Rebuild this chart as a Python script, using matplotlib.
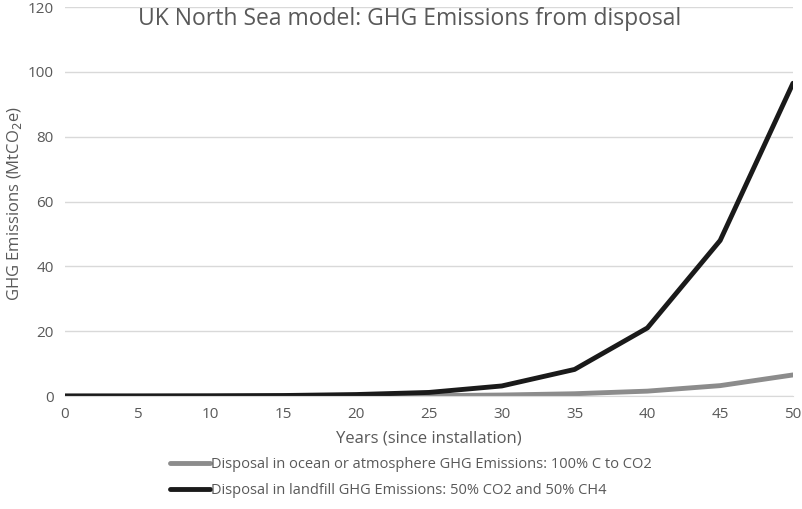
import matplotlib.pyplot as plt

plt.rcParams['font.family'] = ['Open Sans', 'DejaVu Sans']

# 数据
years = [0, 5, 10, 15, 20, 25, 30, 35, 40, 45, 50]
ocean = [0, 0, 0.01, 0.02, 0.05, 0.1, 0.3, 0.7, 1.5, 3.2, 6.5]
landfill = [0, 0.01, 0.05, 0.15, 0.45, 1.1, 3.1, 8.2, 21, 48, 96.5]
yticks = [0, 20, 40, 60, 80, 100, 120]
xticks = [0, 5, 10, 15, 20, 25, 30, 35, 40, 45, 50]

txt = '#595959'

fig = plt.figure(figsize=(8.03, 5.09), dpi=100)
ax = fig.add_axes([0.081, 0.222, 0.9065, 0.764])

ax.plot(years, ocean, color='#8c8c8c', lw=3.5, solid_capstyle='round',
        label='Disposal in ocean or atmosphere GHG Emissions: 100% C to CO2')
ax.plot(years, landfill, color='#1a1a1a', lw=3.5, solid_capstyle='round',
        label='Disposal in landfill GHG Emissions: 50% CO2 and 50% CH4')

ax.set_xlim(0, 50)
ax.set_ylim(0, 120)
ax.set_xticks(xticks)
ax.set_yticks(yticks)
ax.grid(axis='y', color='#d9d9d9', lw=1)
ax.set_axisbelow(True)
for s in ['top', 'right', 'left']:
    ax.spines[s].set_visible(False)
ax.spines['bottom'].set_color('#d9d9d9')
ax.tick_params(length=0, colors=txt, labelsize=11, pad=8)
ax.set_xlabel('Years (since installation)', color=txt, fontsize=12, labelpad=6)

# y 轴标题
fig.text(0.018, 0.60, 'GHG Emissions (MtCO$_2$e)', rotation=90,
         ha='center', va='center', color=txt, fontsize=12)

fig.text(0.51, 0.963, 'UK North Sea model: GHG Emissions from disposal',
         ha='center', va='center', color=txt, fontsize=16.5)

leg = ax.legend(loc='upper left', bbox_to_anchor=(0.205, 0.113),
                bbox_transform=fig.transFigure, frameon=False, fontsize=10.5,
                handlelength=2.7, handletextpad=0.1, labelspacing=0.75,
                borderaxespad=0)
for t in leg.get_texts():
    t.set_color(txt)

fig.savefig('out.png', dpi=100)
